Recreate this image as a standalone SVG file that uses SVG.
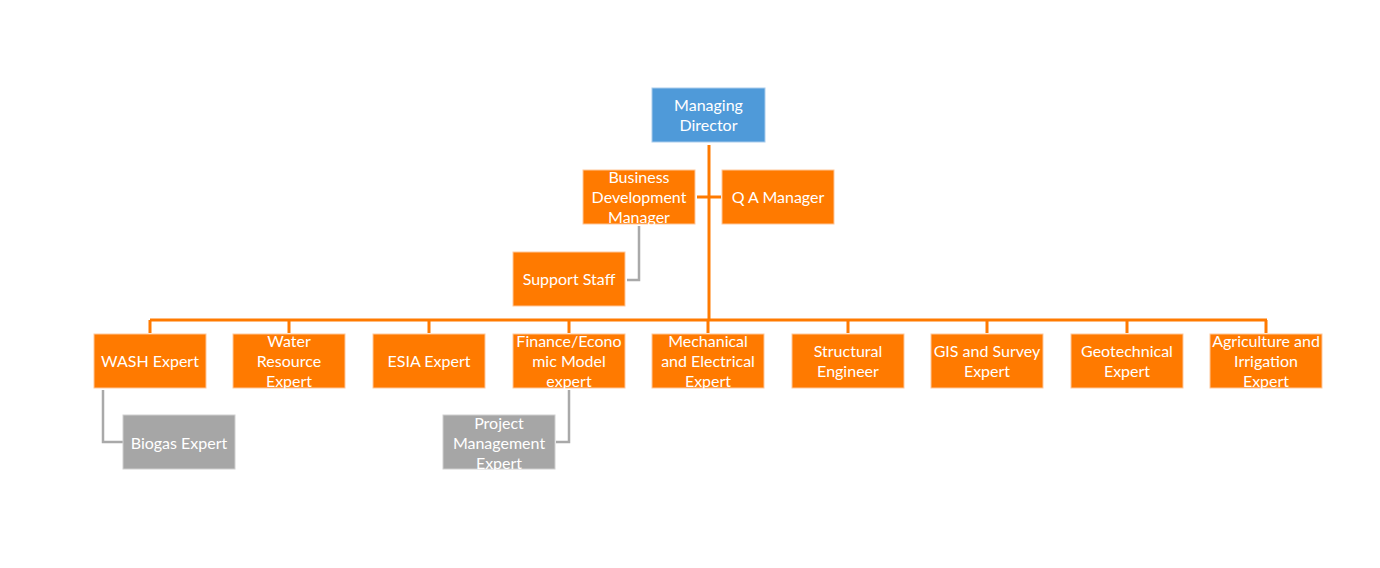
<svg xmlns="http://www.w3.org/2000/svg" width="1380" height="568" viewBox="0 0 1380 568">
<style>
.o{fill:#FF7A00;stroke:#FFC79A;stroke-width:1}
.b{fill:#4F9AD9;stroke:#A9CCEC;stroke-width:1}
.g{fill:#A6A6A6;stroke:#D0D0D0;stroke-width:1}
text{font-family:Lato,"Liberation Sans",sans-serif;font-size:16px;fill:#FFFFFF;text-anchor:middle}
.co{fill:none;stroke:#FF7A00;stroke-width:3}
.cg{fill:none;stroke:#A9A9A9;stroke-width:2.5}
</style>
<rect width="1380" height="568" fill="#FFFFFF"/>
<g id="connectors">
<path class="co" d="M709 145V320"/>
<path class="co" d="M150 320H1267"/>
<path class="co" d="M150 320V333M289 320V333M429 320V333M569 320V333M708 320V333M848 320V333M987 320V333M1127 320V333M1266 320V333"/>
<path class="co" d="M697 197H721"/>
<path class="cg" d="M639 226V280H627"/>
<path class="cg" d="M103 390V442H123"/>
<path class="cg" d="M569 390V442H556"/>
</g>
<g id="managing-director"><rect class="b" x="652" y="88" width="113" height="54"/><text x="708.5" y="111">Managing</text><text x="708.5" y="131">Director</text></g>
<g id="bdm"><rect class="o" x="583" y="170" width="112" height="54"/><text x="639" y="183">Business</text><text x="639" y="203">Development</text><text x="639" y="223">Manager</text></g>
<g id="qa"><rect class="o" x="722" y="170" width="112" height="54"/><text x="778" y="203">Q A Manager</text></g>
<g id="support"><rect class="o" x="513" y="252" width="112" height="54"/><text x="569" y="285">Support Staff</text></g>
<g id="wash"><rect class="o" x="94" y="334" width="112" height="54"/><text x="150" y="367">WASH Expert</text></g>
<g id="water"><rect class="o" x="233" y="334" width="112" height="54"/><text x="289" y="347">Water</text><text x="289" y="367">Resource</text><text x="289" y="387">Expert</text></g>
<g id="esia"><rect class="o" x="373" y="334" width="112" height="54"/><text x="429" y="367">ESIA Expert</text></g>
<g id="finance"><rect class="o" x="513" y="334" width="112" height="54"/><text x="569" y="347">Finance/Econo</text><text x="569" y="367">mic Model</text><text x="569" y="387">expert</text></g>
<g id="mech"><rect class="o" x="652" y="334" width="112" height="54"/><text x="708" y="347">Mechanical</text><text x="708" y="367">and Electrical</text><text x="708" y="387">Expert</text></g>
<g id="struct"><rect class="o" x="792" y="334" width="112" height="54"/><text x="848" y="357">Structural</text><text x="848" y="377">Engineer</text></g>
<g id="gis"><rect class="o" x="931" y="334" width="112" height="54"/><text x="987" y="357">GIS and Survey</text><text x="987" y="377">Expert</text></g>
<g id="geo"><rect class="o" x="1071" y="334" width="112" height="54"/><text x="1127" y="357">Geotechnical</text><text x="1127" y="377">Expert</text></g>
<g id="agri"><rect class="o" x="1210" y="334" width="112" height="54"/><text x="1266" y="347">Agriculture and</text><text x="1266" y="367">Irrigation</text><text x="1266" y="387">Expert</text></g>
<g id="biogas"><rect class="g" x="123" y="415" width="112" height="54"/><text x="179" y="449">Biogas Expert</text></g>
<g id="pm"><rect class="g" x="443" y="415" width="112" height="54"/><text x="499" y="429">Project</text><text x="499" y="449">Management</text><text x="499" y="469">Expert</text></g>
</svg>
